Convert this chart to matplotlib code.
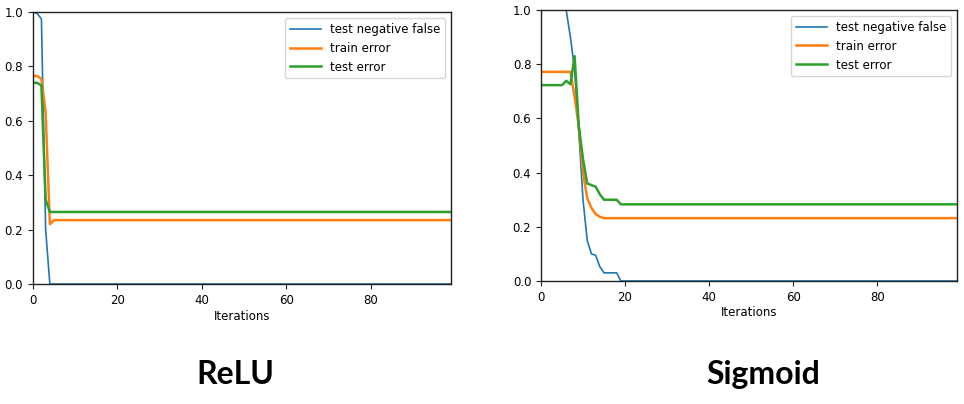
import matplotlib
matplotlib.use("Agg")
import matplotlib.pyplot as plt
import numpy as np

n_iter = 100
iters = np.arange(n_iter)

# ReLU run
relu_neg_false = [1.0, 0.995, 0.975, 0.2] + [0.0] * 96
relu_train = [0.765, 0.765, 0.755, 0.63, 0.22] + [0.235] * 95
relu_test = [0.74, 0.74, 0.73, 0.31] + [0.265] * 96

# Sigmoid run
sig_neg_false = [1.0] * 7 + [0.90, 0.78, 0.55, 0.30, 0.15, 0.10, 0.095,
                             0.053, 0.03, 0.03, 0.03, 0.03] + [0.0] * 81
sig_train = [0.772] * 8 + [0.68, 0.57, 0.40, 0.306, 0.27, 0.247,
                           0.237] + [0.232] * 85
sig_test = [0.723] * 6 + [0.739, 0.726, 0.83, 0.57, 0.45, 0.36, 0.354,
                          0.348, 0.32, 0.30, 0.30, 0.30, 0.30] + [0.283] * 81

labels = ["test negative false", "train error", "test error"]
titles = ["ReLU", "Sigmoid"]

fig = plt.figure(figsize=(9.64, 4.04), dpi=100)
ax1 = fig.add_axes([0.0342, 0.297, 0.4336, 0.673])
ax2 = fig.add_axes([0.5612, 0.3045, 0.4315, 0.6705])

for ax, runs, title, tx in [(ax1, (relu_neg_false, relu_train, relu_test), titles[0], 0.244),
                            (ax2, (sig_neg_false, sig_train, sig_test), titles[1], 0.792)]:
    ax.plot(iters, runs[0], color="#1f77b4", lw=1.2, label=labels[0])
    ax.plot(iters, runs[1], color="#ff7f0e", lw=1.8, label=labels[1])
    ax.plot(iters, runs[2], color="#2ca02c", lw=1.8, label=labels[2])
    ax.set_xlim(0, n_iter - 1)
    ax.set_ylim(0, 1)
    ax.set_xticks([0, 20, 40, 60, 80])
    ax.set_yticks([0.0, 0.2, 0.4, 0.6, 0.8, 1.0])
    ax.tick_params(labelsize=8.5, length=3.5, color="#222222")
    for s in ax.spines.values():
        s.set_color("#222222")
        s.set_linewidth(1.0)
    ax.set_xlabel("Iterations", fontsize=8.5, labelpad=2)
    ax.legend(loc="upper right", fontsize=8.5, handlelength=2.6, borderaxespad=0.5)
    fig.text(tx, 0.073, title, ha="center", va="center", fontsize=23,
             fontweight="bold", family="Lato")

fig.savefig("out.png", dpi=100)
